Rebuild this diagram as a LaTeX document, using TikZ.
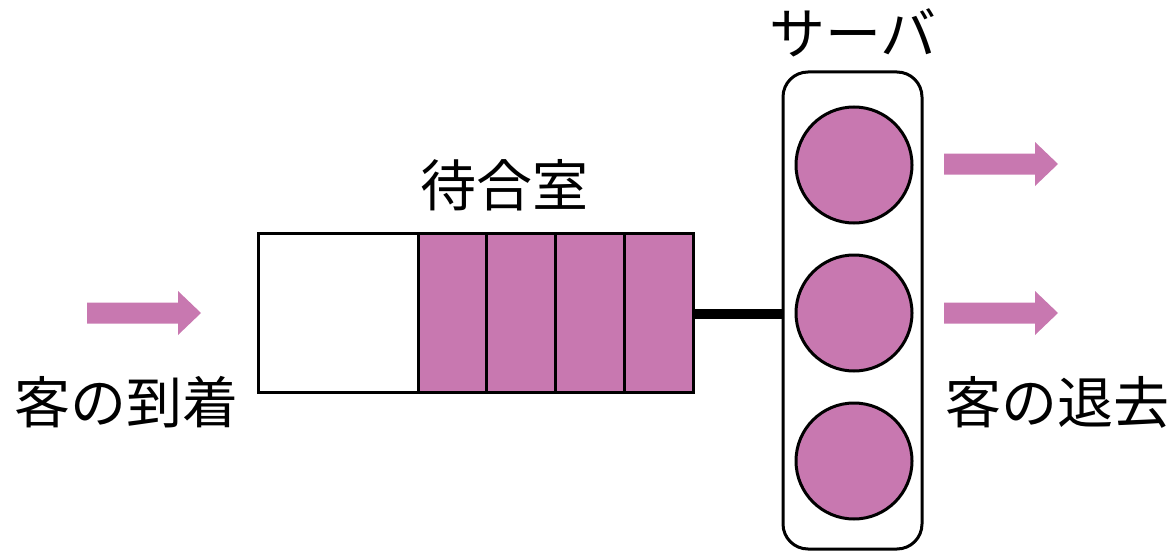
\documentclass[tikz,border=0pt]{standalone}
\usepackage{fontspec}
\newfontfamily\cjk{Noto Sans CJK JP}
\definecolor{qpink}{RGB}{200,120,176}
\begin{document}
\begin{tikzpicture}[x=1pt,y=-1pt,
  label/.style={font=\cjk\fontsize{56}{60}\selectfont, inner sep=0pt, anchor=center},
  slot/.style={draw, line width=3pt, minimum height=159pt, inner sep=0pt, outer sep=0pt},
  cust/.style={slot, fill=qpink, minimum width=68.75pt},
  unit/.style={circle, draw, line width=3pt, fill=qpink, minimum size=116pt, inner sep=0pt, outer sep=0pt},
  flow/.pic={\fill[qpink] (0,-10.5) -- (91,-10.5) -- (91,-22) -- (114,0) -- (91,22) -- (91,10.5) -- (0,10.5) -- cycle;}
]
\useasboundingbox (0,0) rectangle (1171,551);

% waiting room: one empty place and four occupied places
\node[slot, fill=white, minimum width=160pt] (empty) at (338,312.5) {};
\node[cust, anchor=west] (c1) at (empty.east) {};
\node[cust, anchor=west] (c2) at (c1.east) {};
\node[cust, anchor=west] (c3) at (c2.east) {};
\node[cust, anchor=west] (c4) at (c3.east) {};

% server with three service units
\node[draw, line width=3pt, rounded corners=25pt, minimum width=139pt, minimum height=477pt,
      inner sep=0pt, outer sep=0pt] (server) at (852.5,310.5) {};
\node[unit] (s1) at (854,165) {};
\node[unit] (s2) at (854,313) {};
\node[unit] (s3) at (854,461) {};

% link between queue and server
\draw[line width=10pt] (c4.east |- 0,314) -- (server.west |- 0,314);

% arrivals and departures
\pic at (87,313) {flow};
\pic at (944,164) {flow};
\pic at (944,313) {flow};

% labels
\node[label] (lserver) at (853,33) {サーバ};
\node[label] (lroom) at (504,185) {待合室};
\node[label] (larr) at (127,402) {客の到着};
\node[label] (ldep) at (1057,402) {客の退去};
\end{tikzpicture}
\end{document}
